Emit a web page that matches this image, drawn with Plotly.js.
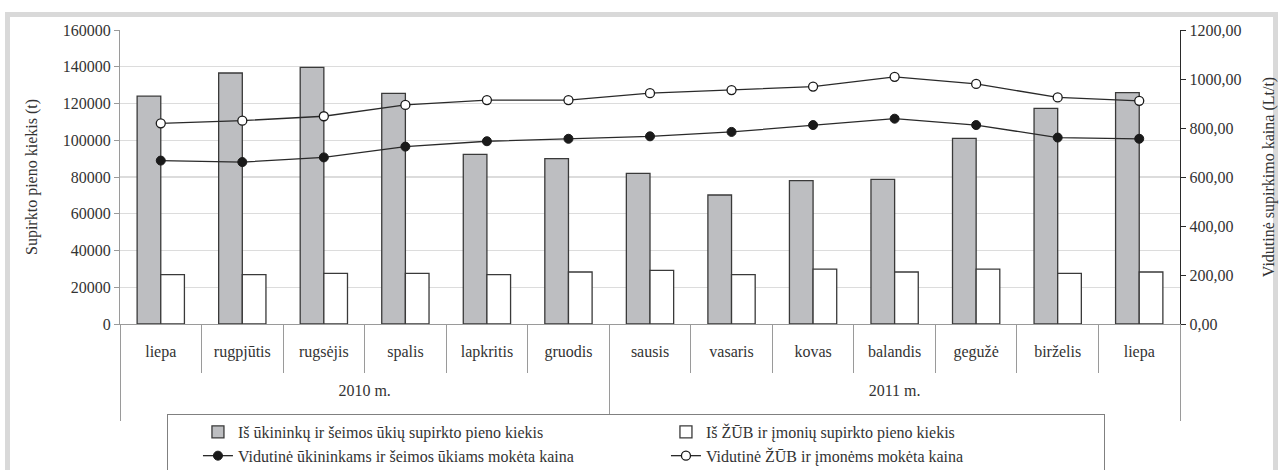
<!DOCTYPE html>
<html>
<head>
<meta charset="utf-8">
<script src="https://cdn.plot.ly/plotly-3.0.1.min.js"></script>
<style>
  html, body { margin: 0; padding: 0; background: #ffffff; }
  #frame { position: absolute; left: 5px; top: 12px; width: 1273px; height: 470px; border: 5px solid #d9d9d9; border-bottom: none; box-sizing: border-box; }
  #chart { position: absolute; left: 0; top: 0; width: 1287px; height: 470px; }
</style>
</head>
<body>
<div id="frame"></div>
<div id="chart"></div>
<script>
// second "liepa" carries a zero-width space so the 2011 July category stays distinct
const months = ['liepa','rugpjūtis','rugsėjis','spalis','lapkritis','gruodis','sausis','vasaris','kovas','balandis','gegužė','birželis','liepa\u200b'];
const years = ['2010 m.','2010 m.','2010 m.','2010 m.','2010 m.','2010 m.','2011 m.','2011 m.','2011 m.','2011 m.','2011 m.','2011 m.','2011 m.'];
const farmQty = [124000,136600,139700,125500,92300,90000,82000,70200,78000,78700,101000,117400,125900];
const coopQty = [26900,26900,27600,27600,26900,28300,29200,26900,29900,28300,29900,27600,28300];
const farmPrice = [667,661,680,724,746,756,766,784,812,838,812,761,756];
const coopPrice = [819,830,848,894,914,914,942,955,969,1009,980,925,911];

const seriesNames = [
  'Iš ūkininkų ir šeimos ūkių supirkto pieno kiekis',
  'Iš ŽŪB ir įmonių supirkto pieno kiekis',
  'Vidutinė ūkininkams ir šeimos ūkiams mokėta kaina',
  'Vidutinė ŽŪB ir įmonėms mokėta kaina'
];

// year groups derived from the years array (category index space)
const yearGroups = [];
years.forEach((yr, i) => {
  const last = yearGroups[yearGroups.length - 1];
  if (last && last.label === yr) last.end = i; else yearGroups.push({label: yr, start: i, end: i});
});
const yearCenters = yearGroups.map(g => (g.start + g.end) / 2);
const yearLabels = yearGroups.map(g => g.label);
const yearBounds = [yearGroups[0].start - 0.5].concat(yearGroups.map(g => g.end + 0.5));
const catRange = [-0.5, months.length - 0.5];

const FONT = 'Liberation Serif, Times New Roman, serif';
const TXT = '#333333';
const AX = '#9a9a9a';

const traces = [
  {type:'bar', name: seriesNames[0], x: months, y: farmQty,
   marker:{color:'#bdbec1', line:{color:'#3a3a3a', width:1.3}}},
  {type:'bar', name: seriesNames[1], x: months, y: coopQty,
   marker:{color:'#ffffff', line:{color:'#3a3a3a', width:1.3}}},
  {type:'scatter', mode:'lines+markers', name: seriesNames[2], x: months, y: farmPrice, yaxis:'y2',
   line:{color:'#2a2a2a', width:1.3},
   marker:{symbol:'circle', size:9, color:'#1a1a1a', line:{color:'#1a1a1a', width:1}}},
  {type:'scatter', mode:'lines+markers', name: seriesNames[3], x: months, y: coopPrice, yaxis:'y2',
   line:{color:'#2a2a2a', width:1.3},
   marker:{symbol:'circle', size:9, color:'#ffffff', line:{color:'#1a1a1a', width:1.3}}},
  // carrier for the year-level axis (no visible marks)
  {type:'scatter', mode:'markers', x: yearCenters, y: yearCenters.map(() => null), xaxis:'x2', yaxis:'y',
   showlegend:false, hoverinfo:'skip', marker:{opacity:0}}
];

const layout = {
  width: 1287, height: 470,
  margin: {l:120, r:107, t:30, b:146, autoexpand: false},
  paper_bgcolor: 'rgba(0,0,0,0)',
  plot_bgcolor: '#ffffff',
  separators: ',.',
  font: {family: FONT, size: 16, color: TXT},
  barmode: 'group',
  bargap: 0.42,
  bargroupgap: 0,
  showlegend: true,
  legend: {
    orientation: 'h',
    x: 0.0443, xanchor: 'left',
    y: -0.306, yanchor: 'top',
    bordercolor: '#808080', borderwidth: 1,
    bgcolor: '#ffffff',
    entrywidth: 393,
    indentation: 30,
    font: {family: FONT, size: 16, color: TXT},
    tracegroupgap: 0
  },
  xaxis: {
    type: 'category',
    automargin: false,
    range: catRange,
    showline: true, linecolor: AX, linewidth: 1,
    ticks: 'outside', tickson: 'boundaries', ticklen: 48, tickcolor: AX, tickwidth: 1,
    ticklabelstandoff: 13,
    tickfont: {family: FONT, size: 16, color: TXT},
    showgrid: false, zeroline: false, fixedrange: true
  },
  xaxis2: {
    type: 'linear',
    overlaying: 'x', anchor: 'y', side: 'bottom',
    automargin: false,
    range: catRange,
    tickmode: 'array', tickvals: yearCenters, ticktext: yearLabels,
    ticks: '', ticklabelstandoff: 55,
    tickfont: {family: FONT, size: 16, color: TXT},
    minor: {tickmode: 'array', tickvals: yearBounds, ticks: 'outside', ticklen: 96, tickcolor: AX, tickwidth: 1, showgrid: false},
    showline: false, showgrid: false, zeroline: false, fixedrange: true
  },
  yaxis: {
    automargin: false,
    range: [0, 160000], dtick: 20000, tick0: 0, tickformat: 'd',
    showgrid: true, gridcolor: '#dcdcdc', gridwidth: 1.3,
    showline: true, linecolor: AX, linewidth: 1,
    ticks: 'outside', ticklen: 5, tickcolor: AX,
    zeroline: false,
    tickfont: {family: FONT, size: 16, color: TXT},
    title: {text: 'Supirkto pieno kiekis (t)', font: {family: FONT, size: 16, color: TXT}, standoff: 21}
  },
  yaxis2: {
    automargin: false,
    overlaying: 'y', side: 'right',
    range: [0, 1200], dtick: 200, tick0: 0, tickformat: '.2f',
    showgrid: false, zeroline: false,
    showline: true, linecolor: '#2a2a2a', linewidth: 1.3,
    ticks: 'outside', ticklen: 5, tickcolor: '#2a2a2a',
    tickfont: {family: FONT, size: 16, color: TXT},
    title: {text: 'Vidutinė supirkimo kaina (Lt/t)', font: {family: FONT, size: 16, color: TXT}, standoff: 22}
  }
};

Plotly.newPlot('chart', traces, layout, {displayModeBar: false, staticPlot: true});
</script>
</body>
</html>
